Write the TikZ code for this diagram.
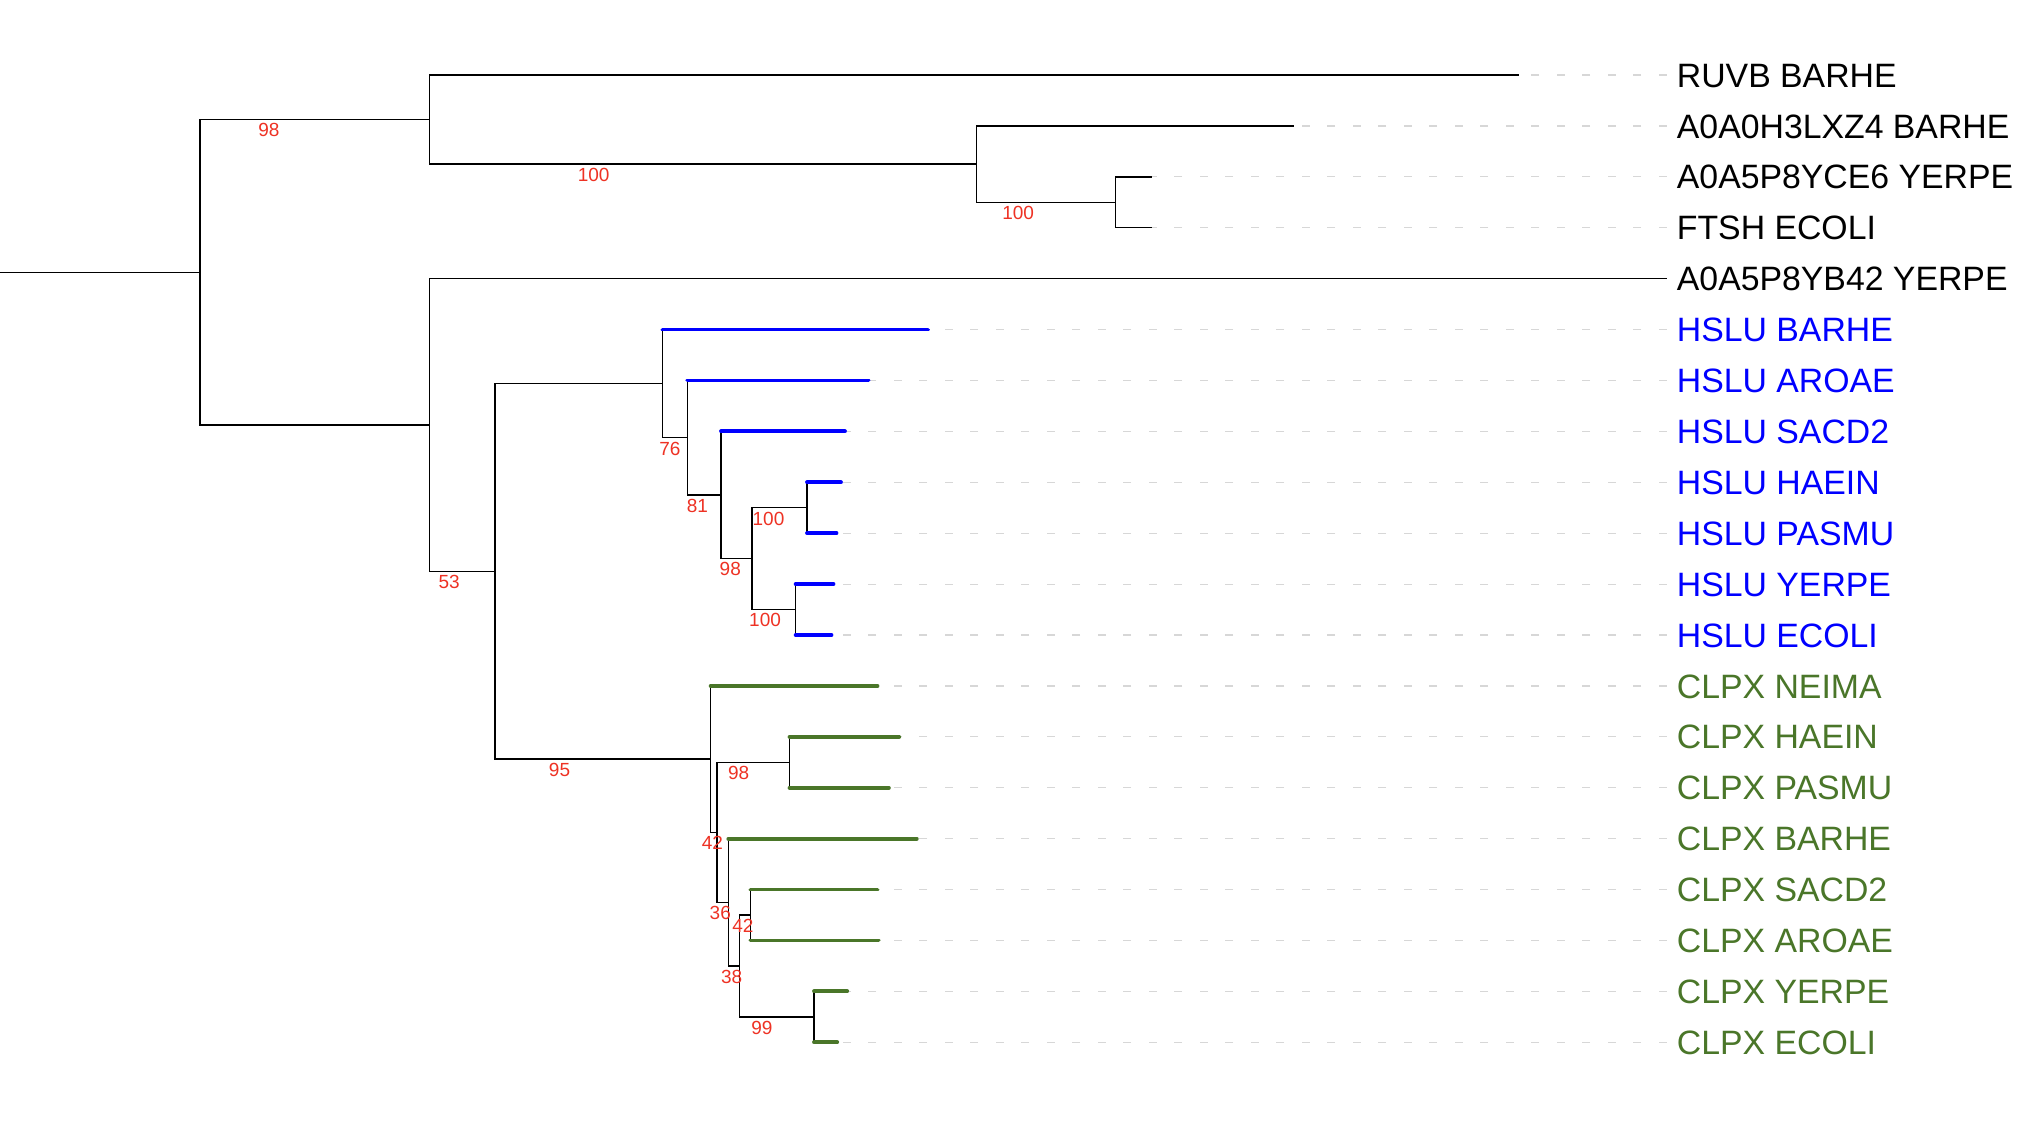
\documentclass[tikz,border=0pt]{standalone}
\usepackage{fontspec}
\setmainfont{Liberation Sans}
\usetikzlibrary{calc}
\definecolor{hslu}{RGB}{0,0,255}
\definecolor{clpx}{RGB}{74,118,41}
\definecolor{supp}{RGB}{238,50,36}
\definecolor{guide}{RGB}{215,215,215}
\begin{document}
\begin{tikzpicture}[x=0.5pt,y=-0.5pt,
  branch/.style={line width=0.7pt, black},
  hsluedge/.style={line width=1.9pt, hslu, line cap=round},
  clpxedge/.style={line width=1.9pt, clpx, line cap=round},
  guideline/.style={line width=0.6pt, guide, dash pattern=on 4pt off 8.75pt},
  taxon/.style={anchor=west, inner xsep=5pt, inner ysep=0pt, font=\fontsize{16.9}{18}\selectfont, text height=12.1pt, text depth=0pt},
  support/.style={text=supp, inner sep=0pt, font=\fontsize{9.5}{10}\selectfont, text height=6.8pt, text depth=0pt},
]
\useasboundingbox[fill=white] (0,0) rectangle (2038,1122);

% internal nodes
\coordinate (base) at (0,272.28);
\coordinate (root) at (200,272.28);
\coordinate (n1) at (429.5,119.55);
\coordinate (n3) at (976.5,164.09);
\coordinate (n4) at (1115.3,202.275);
\coordinate (n2) at (429.5,425.005);
\coordinate (n5) at (494.8,571.37);
\coordinate (n6) at (662.4,383.64);
\coordinate (n8) at (687.3,437.735);
\coordinate (n9) at (721,495.01);
\coordinate (n10) at (752,558.645);
\coordinate (n11) at (807,507.735);
\coordinate (n12) at (795.6,609.555);
\coordinate (n7) at (710.6,759.105);
\coordinate (n13) at (716.8,832.29);
\coordinate (n14) at (789.5,762.285);
\coordinate (n15) at (728.3,902.29);
\coordinate (n16) at (739.7,965.925);
\coordinate (n17) at (750.4,915.015);
\coordinate (n18) at (814,1016.835);

% taxon labels
\node[taxon] (l0) at (1666.5,75) {RUVB BARHE};
\node[taxon] (l1) at (1666.5,125.91) {A0A0H3LXZ4 BARHE};
\node[taxon] (l2) at (1666.5,176.82) {A0A5P8YCE6 YERPE};
\node[taxon] (l3) at (1666.5,227.73) {FTSH ECOLI};
\node[taxon] (l4) at (1666.5,278.64) {A0A5P8YB42 YERPE};
\node[taxon,text=hslu] (l5) at (1666.5,329.55) {HSLU BARHE};
\node[taxon,text=hslu] (l6) at (1666.5,380.46) {HSLU AROAE};
\node[taxon,text=hslu] (l7) at (1666.5,431.37) {HSLU SACD2};
\node[taxon,text=hslu] (l8) at (1666.5,482.28) {HSLU HAEIN};
\node[taxon,text=hslu] (l9) at (1666.5,533.19) {HSLU PASMU};
\node[taxon,text=hslu] (l10) at (1666.5,584.10) {HSLU YERPE};
\node[taxon,text=hslu] (l11) at (1666.5,635.01) {HSLU ECOLI};
\node[taxon,text=clpx] (l12) at (1666.5,685.92) {CLPX NEIMA};
\node[taxon,text=clpx] (l13) at (1666.5,736.83) {CLPX HAEIN};
\node[taxon,text=clpx] (l14) at (1666.5,787.74) {CLPX PASMU};
\node[taxon,text=clpx] (l15) at (1666.5,838.65) {CLPX BARHE};
\node[taxon,text=clpx] (l16) at (1666.5,889.56) {CLPX SACD2};
\node[taxon,text=clpx] (l17) at (1666.5,940.47) {CLPX AROAE};
\node[taxon,text=clpx] (l18) at (1666.5,991.38) {CLPX YERPE};
\node[taxon,text=clpx] (l19) at (1666.5,1042.29) {CLPX ECOLI};

% tips
\coordinate (t0) at (1519,75);
\coordinate (t1) at (1294,125.91);
\coordinate (t2) at (1151.7,176.82);
\coordinate (t3) at (1151.7,227.73);
\coordinate (t5) at (928,329.55);
\coordinate (t6) at (868.5,380.46);
\coordinate (t7) at (845,431.37);
\coordinate (t8) at (841,482.28);
\coordinate (t9) at (836.5,533.19);
\coordinate (t10) at (833.5,584.10);
\coordinate (t11) at (831.5,635.01);
\coordinate (t12) at (877.5,685.92);
\coordinate (t13) at (899.2,736.83);
\coordinate (t14) at (888.9,787.74);
\coordinate (t15) at (916.8,838.65);
\coordinate (t16) at (877.5,889.56);
\coordinate (t17) at (878.6,940.47);
\coordinate (t18) at (847.2,991.38);
\coordinate (t19) at (837.2,1042.29);

% guide lines
\foreach \i in {0,1,2,3,5,6,7,8,9,10,11,12,13,14,15,16,17,18,19}
  \draw[guideline] (l\i.west) -- (t\i);

% black branches
\draw[branch] (base) -- (root);
\draw[branch] (root) |- (n1);
\draw[branch] (root) |- (n2);
\draw[branch] (n1) |- (t0);
\draw[branch] (n1) |- (n3);
\draw[branch] (n3) |- (t1);
\draw[branch] (n3) |- (n4);
\draw[branch] (n4) |- (t2);
\draw[branch] (n4) |- (t3);
\draw[branch] (n2) |- (l4.west);
\draw[branch] (n2) |- (n5);
\draw[branch] (n5) |- (n6);
\draw[branch] (n5) |- (n7);
\draw[branch] (n6) |- (n8);
\draw[branch] (n8) |- (n9);
\draw[branch] (n9) |- (n10);
\draw[branch] (n10) |- (n11);
\draw[branch] (n10) |- (n12);
\draw[branch] (n7) |- (n13);
\draw[branch] (n13) |- (n14);
\draw[branch] (n13) |- (n15);
\draw[branch] (n15) |- (n16);
\draw[branch] (n16) |- (n17);
\draw[branch] (n16) |- (n18);

% coloured leaf branches
\foreach \p/\t in {n6/t5,n8/t6,n9/t7,n11/t8,n11/t9,n12/t10,n12/t11}{
  \draw[branch] (\p) -- (\p |- \t);
  \draw[hsluedge] (\p |- \t) -- (\t);
}
\foreach \p/\t in {n7/t12,n14/t13,n14/t14,n15/t15,n17/t16,n17/t17,n18/t18,n18/t19}{
  \draw[branch] (\p) -- (\p |- \t);
  \draw[clpxedge] (\p |- \t) -- (\t);
}

% support values
\foreach \p/\c/\v in {root/n1/98,n1/n3/100,n3/n4/100,n2/n5/53,n6/n8/76,n8/n9/81,n9/n10/98,n10/n11/100,n10/n12/100,n5/n7/95,n7/n13/42,n13/n14/98,n13/n15/36,n15/n16/38,n16/n17/42,n16/n18/99}
  \node[support] (s\p\c) at ($(\p |- \c)!0.3!(\c) + (0,10.5)$) {\v};
\end{tikzpicture}
\end{document}
